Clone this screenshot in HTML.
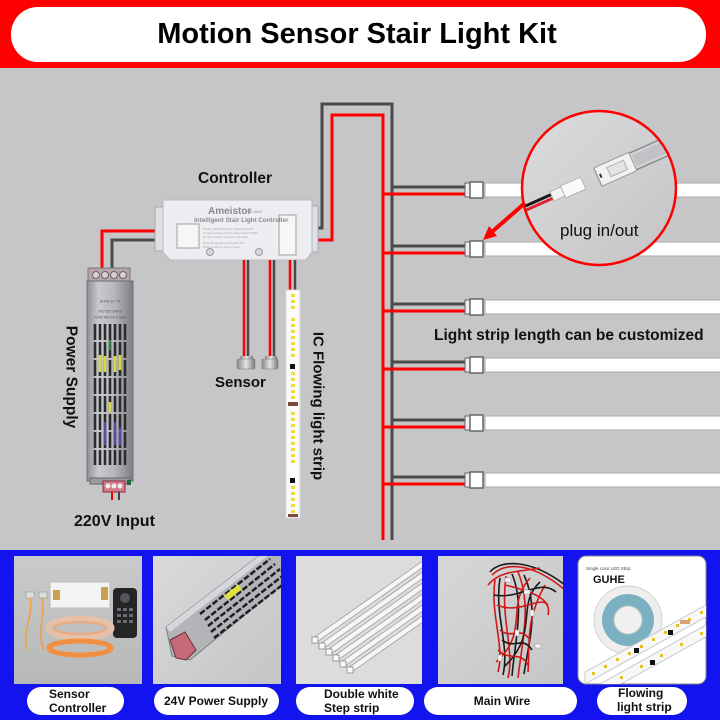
<!DOCTYPE html>
<html><head><meta charset="utf-8"><style>
html,body{margin:0;padding:0;background:#c6c6c8;}
svg{display:block;}
text{font-family:"Liberation Sans",sans-serif;}
</style></head><body>
<svg width="720" height="720" viewBox="0 0 720 720" xmlns="http://www.w3.org/2000/svg">
<defs>
<linearGradient id="psu" x1="0" y1="0" x2="1" y2="0">
<stop offset="0" stop-color="#8e9096"/><stop offset="0.25" stop-color="#c9cace"/><stop offset="0.6" stop-color="#b4b6ba"/><stop offset="1" stop-color="#7d7f84"/>
</linearGradient>
<linearGradient id="mag" x1="0" y1="0" x2="1" y2="1">
<stop offset="0" stop-color="#dcdcde"/><stop offset="1" stop-color="#c4c4c6"/>
</linearGradient>
<linearGradient id="sens" x1="0" y1="0" x2="1" y2="0">
<stop offset="0" stop-color="#8a8a8e"/><stop offset="0.5" stop-color="#e4e4e6"/><stop offset="1" stop-color="#7a7a7e"/>
</linearGradient>
<linearGradient id="th1" x1="0" y1="0" x2="0" y2="1">
<stop offset="0" stop-color="#c9cacb"/><stop offset="1" stop-color="#b7b8b8"/>
</linearGradient>
<linearGradient id="th2" x1="0" y1="0" x2="1" y2="1">
<stop offset="0" stop-color="#d8dadb"/><stop offset="1" stop-color="#c3c5c6"/>
</linearGradient>
<linearGradient id="th4" x1="0" y1="0" x2="1" y2="1">
<stop offset="0" stop-color="#d7d7d7"/><stop offset="1" stop-color="#c6c6c6"/>
</linearGradient>
<clipPath id="circ"><circle cx="599" cy="188" r="76"/></clipPath>
<clipPath id="c2"><rect x="153" y="556" width="128" height="128"/></clipPath>
<clipPath id="c3"><rect x="296" y="556" width="126" height="128"/></clipPath>
<clipPath id="c4"><rect x="438" y="556" width="125" height="128"/></clipPath>
<clipPath id="c5"><rect x="578" y="556" width="128" height="128" rx="8"/></clipPath>
</defs>

<!-- header -->
<rect x="0" y="0" width="720" height="68" fill="#fe0000"/>
<rect x="11" y="7" width="695" height="55" rx="27" fill="#ffffff"/>
<text x="357" y="43" font-size="29" font-weight="bold" text-anchor="middle" fill="#000">Motion Sensor Stair Light Kit</text>

<!-- grey area -->
<rect x="0" y="68" width="720" height="482" fill="#c6c6c8"/>

<!-- main wires -->
<path d="M298,228 H322 V104 H392 V540" fill="none" stroke="#4a4a4c" stroke-width="3"/>
<path d="M294,240 H332 V115 H383 V540" fill="none" stroke="#ff0000" stroke-width="3"/>

<!-- branches + strips -->
<g id="rows">
<g>
<line x1="392" y1="187" x2="466" y2="187" stroke="#4a4a4c" stroke-width="3"/>
<line x1="383" y1="194" x2="466" y2="194" stroke="#ff0000" stroke-width="3"/>
<rect x="485" y="183" width="240" height="14" fill="#fff" stroke="#a8a8a8"/>
<rect x="465" y="183" width="6" height="14" fill="#eee" stroke="#666"/>
<rect x="470" y="182" width="13" height="16" fill="#fff" stroke="#666" stroke-width="1.5"/>
</g>
<g>
<line x1="392" y1="246" x2="466" y2="246" stroke="#4a4a4c" stroke-width="3"/>
<line x1="383" y1="253" x2="466" y2="253" stroke="#ff0000" stroke-width="3"/>
<rect x="485" y="242" width="240" height="14" fill="#fff" stroke="#a8a8a8"/>
<rect x="465" y="242" width="6" height="14" fill="#eee" stroke="#666"/>
<rect x="470" y="241" width="13" height="16" fill="#fff" stroke="#666" stroke-width="1.5"/>
</g>
<g>
<line x1="392" y1="304" x2="466" y2="304" stroke="#4a4a4c" stroke-width="3"/>
<line x1="383" y1="311" x2="466" y2="311" stroke="#ff0000" stroke-width="3"/>
<rect x="485" y="300" width="240" height="14" fill="#fff" stroke="#a8a8a8"/>
<rect x="465" y="300" width="6" height="14" fill="#eee" stroke="#666"/>
<rect x="470" y="299" width="13" height="16" fill="#fff" stroke="#666" stroke-width="1.5"/>
</g>
<g>
<line x1="392" y1="362" x2="466" y2="362" stroke="#4a4a4c" stroke-width="3"/>
<line x1="383" y1="369" x2="466" y2="369" stroke="#ff0000" stroke-width="3"/>
<rect x="485" y="358" width="240" height="14" fill="#fff" stroke="#a8a8a8"/>
<rect x="465" y="358" width="6" height="14" fill="#eee" stroke="#666"/>
<rect x="470" y="357" width="13" height="16" fill="#fff" stroke="#666" stroke-width="1.5"/>
</g>
<g>
<line x1="392" y1="420" x2="466" y2="420" stroke="#4a4a4c" stroke-width="3"/>
<line x1="383" y1="427" x2="466" y2="427" stroke="#ff0000" stroke-width="3"/>
<rect x="485" y="416" width="240" height="14" fill="#fff" stroke="#a8a8a8"/>
<rect x="465" y="416" width="6" height="14" fill="#eee" stroke="#666"/>
<rect x="470" y="415" width="13" height="16" fill="#fff" stroke="#666" stroke-width="1.5"/>
</g>
<g>
<line x1="392" y1="477" x2="466" y2="477" stroke="#4a4a4c" stroke-width="3"/>
<line x1="383" y1="484" x2="466" y2="484" stroke="#ff0000" stroke-width="3"/>
<rect x="485" y="473" width="240" height="14" fill="#fff" stroke="#a8a8a8"/>
<rect x="465" y="473" width="6" height="14" fill="#eee" stroke="#666"/>
<rect x="470" y="472" width="13" height="16" fill="#fff" stroke="#666" stroke-width="1.5"/>
</g>
</g>

<text x="434" y="340" font-size="15.5" font-weight="bold" fill="#111">Light strip length can be customized</text>

<!-- magnifier -->
<circle cx="599" cy="188" r="77" fill="url(#mag)"/>
<g clip-path="url(#circ)">
<g transform="translate(598,177) rotate(-24)">
<rect x="0" y="-9" width="130" height="18" fill="#d3d3d5" stroke="#8c8c8e" stroke-width="1.5"/>
<rect x="40" y="-6" width="90" height="12" fill="#c2c2c6"/>
<rect x="0" y="-10" width="38" height="20" fill="#f2f2f2" stroke="#9a9a9a"/>
<rect x="12" y="-5" width="18" height="10" fill="#e4e4e4" stroke="#b0b0b0"/>
<rect x="2" y="-2" width="2" height="4" fill="#333"/>
<line x1="-48" y1="-3" x2="-130" y2="-3" stroke="#1a1a1a" stroke-width="3"/>
<line x1="-48" y1="1" x2="-130" y2="1" stroke="#e02030" stroke-width="3"/>
<rect x="-50" y="-6" width="12" height="10" fill="#f4f4f4" stroke="#aaa" stroke-width="0.8"/>
<rect x="-38" y="-7" width="22" height="13" fill="#fafafa" stroke="#aaa" stroke-width="0.8"/>
</g>
</g>
<circle cx="599" cy="188" r="77" fill="none" stroke="#ff0000" stroke-width="2.5"/>
<text x="560" y="236" font-size="17" fill="#111">plug in/out</text>
<!-- arrow -->
<line x1="525" y1="203" x2="493" y2="231" stroke="#ff0000" stroke-width="4"/>
<polygon points="483,240 497,236 489,226" fill="#ff0000"/>

<!-- controller -->
<text x="198" y="183" font-size="15.5" font-weight="bold" fill="#111">Controller</text>
<path d="M165,231 H102 V275" fill="none" stroke="#ff0000" stroke-width="3"/>
<path d="M165,240 H112 V275" fill="none" stroke="#4a4a4c" stroke-width="3"/>
<rect x="155" y="207" width="24" height="44" fill="#dfe0e3" stroke="#a8a8aa"/>
<rect x="288" y="206" width="30" height="46" fill="#dfe0e3" stroke="#a8a8aa"/>
<path d="M163,200 H312 V252 L306,260 H170 L163,252 Z" fill="#eceef1" stroke="#b8b9bc"/>
<rect x="177" y="224" width="22" height="24" fill="#f6f6f7" stroke="#a0a0a2"/>
<rect x="279" y="215" width="17" height="40" fill="#f6f6f7" stroke="#a0a0a2"/>
<text x="208" y="214" font-size="10" font-weight="bold" fill="#8a8b8f">Ameistor</text>
<text x="246" y="213" font-size="4" fill="#8a8b8f">PW-20W</text>
<text x="194" y="222" font-size="6.3" font-weight="bold" fill="#8a8b8f">Intelligent Stair Light Controller</text>
<g fill="#a5a6aa" font-size="3">
<text x="203" y="230">Model: PW-20W    Input Voltage:DC24V</text>
<text x="203" y="234">Output Voltage:DC24V  Max Power:500W</text>
<text x="203" y="238">Control: Motion Sensor &amp; Remote</text>
<text x="203" y="244">Smooth operation at 5-24V DC</text>
<text x="203" y="248">Press button to setup mode</text>
</g>
<circle cx="210" cy="252" r="3.5" fill="#d8d8da" stroke="#999"/>
<circle cx="259" cy="252" r="3.5" fill="#d8d8da" stroke="#999"/>

<!-- sensor wires -->
<line x1="244" y1="260" x2="244" y2="358" stroke="#ff0000" stroke-width="2.5"/>
<line x1="248" y1="260" x2="248" y2="358" stroke="#4a4a4c" stroke-width="2.5"/>
<line x1="270" y1="260" x2="270" y2="358" stroke="#ff0000" stroke-width="2.5"/>
<line x1="274" y1="260" x2="274" y2="358" stroke="#4a4a4c" stroke-width="2.5"/>
<line x1="290" y1="260" x2="290" y2="292" stroke="#ff0000" stroke-width="2.5"/>
<line x1="295" y1="260" x2="295" y2="292" stroke="#4a4a4c" stroke-width="2.5"/>
<!-- sensor heads -->
<rect x="240" y="356" width="13" height="4" fill="url(#sens)"/>
<rect x="237" y="359" width="18" height="10" rx="1" fill="url(#sens)" stroke="#777" stroke-width="0.5"/>
<rect x="265" y="356" width="12" height="4" fill="url(#sens)"/>
<rect x="262" y="359" width="16" height="10" rx="1" fill="url(#sens)" stroke="#777" stroke-width="0.5"/>
<text x="215" y="387" font-size="15" font-weight="bold" fill="#111">Sensor</text>

<!-- vertical LED strip -->
<rect x="286" y="290" width="14" height="228" fill="#fbfbfb" stroke="#d8d8d8"/>
<g fill="#f0de30">
<rect x="291" y="294" width="4" height="3"/><rect x="291" y="300" width="4" height="3"/><rect x="291" y="306" width="4" height="3"/>
<rect x="291" y="318" width="4" height="3"/><rect x="291" y="324" width="4" height="3"/><rect x="291" y="330" width="4" height="3"/>
<rect x="291" y="336" width="4" height="3"/><rect x="291" y="342" width="4" height="3"/><rect x="291" y="348" width="4" height="3"/>
<rect x="291" y="354" width="4" height="3"/><rect x="291" y="372" width="4" height="3"/><rect x="291" y="378" width="4" height="3"/>
<rect x="291" y="384" width="4" height="3"/><rect x="291" y="390" width="4" height="3"/><rect x="291" y="396" width="4" height="3"/>
<rect x="291" y="412" width="4" height="3"/><rect x="291" y="418" width="4" height="3"/><rect x="291" y="424" width="4" height="3"/>
<rect x="291" y="430" width="4" height="3"/><rect x="291" y="436" width="4" height="3"/><rect x="291" y="442" width="4" height="3"/>
<rect x="291" y="448" width="4" height="3"/><rect x="291" y="454" width="4" height="3"/><rect x="291" y="460" width="4" height="3"/>
<rect x="291" y="486" width="4" height="3"/><rect x="291" y="492" width="4" height="3"/><rect x="291" y="498" width="4" height="3"/>
<rect x="291" y="504" width="4" height="3"/><rect x="291" y="510" width="4" height="3"/>
</g>
<rect x="290" y="364" width="5" height="5" fill="#111"/>
<rect x="290" y="478" width="5" height="5" fill="#111"/>
<rect x="288" y="402" width="10" height="4" fill="#7a4a3a"/>
<rect x="288" y="514" width="10" height="3" fill="#7a4a3a"/>
<text transform="translate(318,406) rotate(90)" x="0" y="0" font-size="15" font-weight="bold" fill="#111" text-anchor="middle" dominant-baseline="central">IC Flowing light strip</text>

<!-- power supply -->
<rect x="88" y="268" width="42" height="14" fill="#b8a4a8" stroke="#777"/>
<circle cx="96" cy="275" r="3.5" fill="#d9d0d2" stroke="#666"/>
<circle cx="105" cy="275" r="3.5" fill="#d9d0d2" stroke="#666"/>
<circle cx="114" cy="275" r="3.5" fill="#d9d0d2" stroke="#666"/>
<circle cx="123" cy="275" r="3.5" fill="#d9d0d2" stroke="#666"/>
<rect x="87" y="281" width="46" height="200" fill="url(#psu)" stroke="#6e7075"/>
<g fill="#555" font-size="3.5">
<text transform="translate(110,300) rotate(180)" text-anchor="middle">UL CE RoHS</text>
<text transform="translate(110,310) rotate(180)" text-anchor="middle">GUHE-220-24V</text>
<text transform="translate(110,316) rotate(180)" text-anchor="middle">INPUT:AC180-264V</text>
</g>
<g stroke="#2a2b2e" stroke-width="2.6" stroke-dasharray="16,2">
<line x1="95" y1="324" x2="95" y2="465"/>
<line x1="100" y1="324" x2="100" y2="465"/>
<line x1="105" y1="324" x2="105" y2="465"/>
<line x1="110" y1="324" x2="110" y2="465"/>
<line x1="115" y1="324" x2="115" y2="465"/>
<line x1="120" y1="324" x2="120" y2="465"/>
<line x1="125" y1="324" x2="125" y2="465"/>
</g>
<g stroke-width="2.6">
<line x1="100" y1="355" x2="100" y2="372" stroke="#d8d840"/>
<line x1="105" y1="356" x2="105" y2="372" stroke="#d8d840"/>
<line x1="115" y1="356" x2="115" y2="372" stroke="#d8d840"/>
<line x1="120" y1="355" x2="120" y2="370" stroke="#d8d840"/>
<line x1="110" y1="402" x2="110" y2="412" stroke="#d8d840"/>
<line x1="105" y1="422" x2="105" y2="445" stroke="#5a4aa0"/>
<line x1="115" y1="422" x2="115" y2="445" stroke="#5a4aa0"/>
<line x1="120" y1="428" x2="120" y2="445" stroke="#5a4aa0"/>
<line x1="110" y1="340" x2="110" y2="350" stroke="#3d7a4a"/>
</g>
<rect x="90" y="478" width="40" height="6" fill="#9a9ca0" stroke="#666"/>
<rect x="103" y="481" width="22" height="11" fill="#d57a8a" stroke="#8a3040"/>
<circle cx="108" cy="486" r="2.5" fill="#eee"/><circle cx="114" cy="486" r="2.5" fill="#eee"/><circle cx="120" cy="486" r="2.5" fill="#eee"/>
<line x1="112" y1="492" x2="112" y2="500" stroke="#ff0000" stroke-width="2"/>
<line x1="119" y1="492" x2="119" y2="500" stroke="#444" stroke-width="2"/>
<rect x="127" y="480" width="4" height="5" fill="#1a6a3a"/>
<text transform="translate(71,377) rotate(90)" x="0" y="0" font-size="15.5" font-weight="bold" fill="#111" text-anchor="middle" dominant-baseline="central">Power Supply</text>
<text x="74" y="526" font-size="16" font-weight="bold" fill="#111">220V Input</text>

<!-- bottom blue panel -->
<rect x="0" y="550" width="720" height="170" fill="#1313f0"/>

<!-- thumb 1 -->
<rect x="14" y="556" width="128" height="128" fill="url(#th1)"/>
<rect x="50" y="582" width="60" height="26" fill="#f3f3f3" stroke="#bbb"/>
<rect x="53" y="590" width="7" height="10" fill="#c8a050"/>
<rect x="101" y="587" width="7" height="13" fill="#c8a050"/>
<rect x="113" y="588" width="24" height="50" rx="4" fill="#252528"/>
<g fill="#55565a"><circle cx="125" cy="598" r="5"/></g>
<g fill="#6a6b70">
<rect x="117" y="608" width="4" height="3"/><rect x="123" y="608" width="4" height="3"/><rect x="129" y="608" width="4" height="3"/>
<rect x="117" y="614" width="4" height="3"/><rect x="123" y="614" width="4" height="3"/><rect x="129" y="614" width="4" height="3"/>
<rect x="117" y="620" width="4" height="3"/><rect x="123" y="620" width="4" height="3"/><rect x="129" y="620" width="4" height="3"/>
</g>
<ellipse cx="80" cy="628" rx="32" ry="10" fill="none" stroke="#e8c0a8" stroke-width="5"/>
<ellipse cx="80" cy="628" rx="26" ry="6" fill="none" stroke="#f0a878" stroke-width="2"/>
<ellipse cx="80" cy="648" rx="31" ry="7" fill="none" stroke="#f09040" stroke-width="5"/>
<path d="M30,597 C34,615 22,630 27,650" fill="none" stroke="#f0a040" stroke-width="1.5"/>
<path d="M42,597 C46,615 36,630 44,650" fill="none" stroke="#f0a040" stroke-width="1.5"/>
<rect x="26" y="592" width="8" height="6" fill="#ddd" stroke="#888" stroke-width="0.5"/>
<rect x="39" y="592" width="8" height="6" fill="#ddd" stroke="#888" stroke-width="0.5"/>

<!-- thumb 2 -->
<rect x="153" y="556" width="128" height="128" fill="url(#th2)"/>
<g clip-path="url(#c2)">
<polygon points="166,627 264,552 290,552 290,578 190,660 172,656" fill="#b2b4b8" stroke="#7a7c80"/>
<polygon points="166,627 264,552 268,556 170,632" fill="#d6d7da"/>
<g stroke="#1e1f22" stroke-width="2.5" stroke-dasharray="6,2">
<line x1="205" y1="620" x2="275" y2="564"/>
<line x1="208" y1="626" x2="280" y2="569"/>
<line x1="211" y1="632" x2="285" y2="574"/>
<line x1="214" y1="638" x2="290" y2="579"/>
<line x1="200" y1="614" x2="270" y2="559"/>
</g>
<line x1="226" y1="598" x2="240" y2="587" stroke="#e0e040" stroke-width="6"/>
<polygon points="170,640 185,632 196,650 186,660 176,658" fill="#c46a78" stroke="#6a3038"/>
</g>

<!-- thumb 3 -->
<rect x="296" y="556" width="126" height="128" fill="#dcdcdc"/>
<g clip-path="url(#c3)">
<g stroke="#9a9a9a" stroke-width="6">
<line x1="315" y1="640" x2="440" y2="552"/><line x1="322" y1="646" x2="447" y2="558"/>
<line x1="329" y1="652" x2="454" y2="564"/><line x1="336" y1="658" x2="461" y2="570"/>
<line x1="343" y1="664" x2="468" y2="576"/><line x1="350" y1="670" x2="475" y2="582"/>
</g>
<g stroke="#f6f6f6" stroke-width="4.5">
<line x1="315" y1="640" x2="440" y2="552"/><line x1="322" y1="646" x2="447" y2="558"/>
<line x1="329" y1="652" x2="454" y2="564"/><line x1="336" y1="658" x2="461" y2="570"/>
<line x1="343" y1="664" x2="468" y2="576"/><line x1="350" y1="670" x2="475" y2="582"/>
</g>
<g fill="#fafafa" stroke="#888" stroke-width="0.8">
<rect x="312" y="637" width="6" height="6"/><rect x="319" y="643" width="6" height="6"/>
<rect x="326" y="649" width="6" height="6"/><rect x="333" y="655" width="6" height="6"/>
<rect x="340" y="661" width="6" height="6"/><rect x="347" y="667" width="6" height="6"/>
</g>
</g>

<!-- thumb 4 -->
<rect x="438" y="556" width="125" height="128" fill="url(#th4)"/>
<g clip-path="url(#c4)" fill="none" stroke-width="1.6">
<path d="M490,572 C500,560 530,558 565,585" stroke="#1a1a1a"/>
<path d="M492,575 C505,562 532,562 565,590" stroke="#d01818"/>
<path d="M488,585 C500,570 520,572 540,568" stroke="#d01818"/>
<path d="M495,580 C490,615 505,645 498,672" stroke="#d01818"/>
<path d="M500,578 C494,615 510,645 503,675" stroke="#1a1a1a"/>
<path d="M506,576 C500,620 515,650 508,678" stroke="#d01818"/>
<path d="M512,574 C525,605 515,640 512,676" stroke="#1a1a1a"/>
<path d="M518,572 C532,605 522,642 518,678" stroke="#d01818"/>
<path d="M524,575 C540,610 528,645 524,674" stroke="#1a1a1a"/>
<path d="M530,578 C505,605 530,632 496,662" stroke="#d01818"/>
<path d="M540,582 C515,605 540,632 505,666" stroke="#1a1a1a"/>
<path d="M545,585 C525,620 530,645 528,672" stroke="#d01818"/>
<path d="M505,585 C535,592 552,600 548,615" stroke="#d01818"/>
<path d="M494,595 C520,600 540,578 556,592" stroke="#1a1a1a"/>
<path d="M497,605 C520,615 540,595 548,605" stroke="#d01818"/>
<path d="M500,630 C512,640 520,625 530,640" stroke="#d01818"/>
<path d="M502,640 C515,650 522,635 532,650" stroke="#1a1a1a"/>
<path d="M498,650 C510,662 520,650 528,665" stroke="#d01818"/>
</g>
<g fill="#f4f4f4" stroke="#999" stroke-width="0.5">
<rect x="505" y="578" width="6" height="4"/><rect x="524" y="590" width="6" height="4"/>
<rect x="530" y="610" width="4" height="6"/><rect x="515" y="630" width="4" height="6"/>
<rect x="535" y="644" width="6" height="4"/><rect x="498" y="655" width="4" height="6"/>
</g>

<!-- thumb 5 -->
<rect x="578" y="556" width="128" height="128" fill="#1313f0"/>
<rect x="578" y="556" width="128" height="128" rx="8" fill="#ffffff" stroke="#888"/>
<g clip-path="url(#c5)">
<text x="586" y="570" font-size="4.5" fill="#444">Single color LED Strip:</text>
<text x="593" y="583" font-size="11" font-weight="bold" fill="#111">GUHE</text>
<circle cx="628" cy="620" r="34" fill="#eeeeee" stroke="#d0d0d0"/>
<circle cx="628" cy="620" r="26" fill="#7ab0c0"/>
<circle cx="628" cy="620" r="14" fill="#f0f0f0" stroke="#c8c8c8"/>
<polygon points="585,672 715,600 715,612 585,684" fill="#f8f8f8" stroke="#c8c8c8"/>
<polygon points="600,684 715,620 715,632 610,690" fill="#f8f8f8" stroke="#c8c8c8"/>
<g fill="#e8c020">
<rect x="592" y="672" width="3" height="3"/><rect x="604" y="665" width="3" height="3"/><rect x="616" y="658" width="3" height="3"/>
<rect x="628" y="652" width="3" height="3"/><rect x="640" y="645" width="3" height="3"/><rect x="652" y="638" width="3" height="3"/>
<rect x="664" y="631" width="3" height="3"/><rect x="676" y="624" width="3" height="3"/><rect x="688" y="618" width="3" height="3"/>
<rect x="700" y="611" width="3" height="3"/>
<rect x="620" y="676" width="3" height="3"/><rect x="640" y="665" width="3" height="3"/><rect x="660" y="654" width="3" height="3"/>
<rect x="680" y="643" width="3" height="3"/><rect x="700" y="632" width="3" height="3"/>
</g>
<rect x="634" y="648" width="5" height="5" fill="#111"/>
<rect x="668" y="630" width="5" height="5" fill="#111"/>
<rect x="650" y="660" width="5" height="5" fill="#111"/>
<rect x="680" y="620" width="10" height="4" fill="#e0a070"/>
</g>

<!-- labels -->
<g fill="#ffffff">
<rect x="27" y="687" width="97" height="28" rx="14"/>
<rect x="154" y="687" width="125" height="28" rx="14"/>
<rect x="296" y="687" width="118" height="28" rx="14"/>
<rect x="424" y="687" width="153" height="28" rx="14"/>
<rect x="597" y="687" width="90" height="28" rx="14"/>
</g>
<g font-size="12" font-weight="bold" fill="#111">
<text x="49" y="698">Sensor</text>
<text x="49" y="712">Controller</text>
<text x="216" y="705" text-anchor="middle">24V Power Supply</text>
<text x="324" y="698">Double white</text>
<text x="324" y="712">Step strip</text>
<text x="502" y="705" text-anchor="middle">Main Wire</text>
<text x="618" y="697">Flowing</text>
<text x="617" y="711">light strip</text>
</g>
</svg>
</body></html>
